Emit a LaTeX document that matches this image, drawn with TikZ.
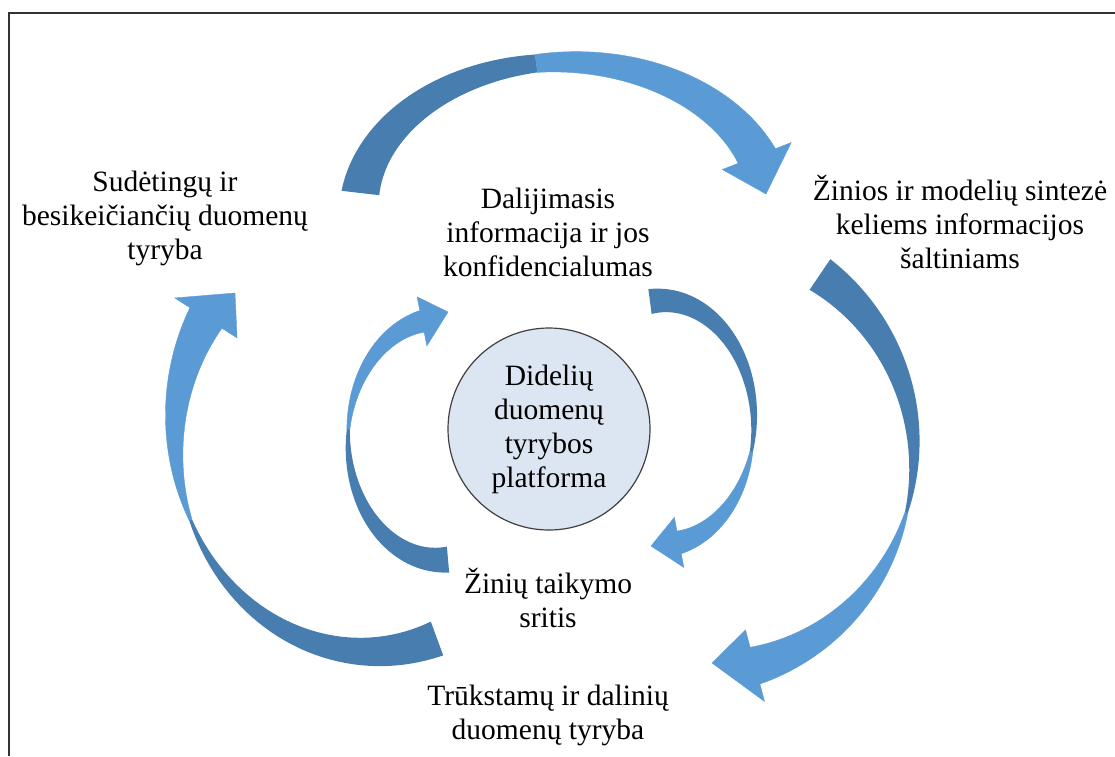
\documentclass[tikz,border=0pt]{standalone}
\usepackage{fontspec}
\setmainfont{Liberation Serif}
\usepackage{tikz}
\definecolor{arrowlight}{RGB}{91,155,213}
\definecolor{arrowdark}{RGB}{72,125,175}
\definecolor{platform}{RGB}{220,230,242}

% ribbon parameters: centre, radii, angles (tail, twist, head), widths, wing
\def\cx{0}\def\cy{0}\def\ra{1}\def\rb{1}
\def\ta{0}\def\tb{1}\def\tc{2}
\def\wa{1}\def\wb{1}\def\wc{1}\def\hw{1}
% curved ribbon arrow, #1 = tip
\newcommand{\ribbon}[1]{%
  \fill[darkside] plot[domain=\ta:\tb] ({px(\x,1)},{py(\x,1)})
    -- plot[domain=\tb:\ta] ({px(\x,-1)},{py(\x,-1)}) -- cycle;
  \filldraw[lightside] plot[domain=\tb:\tc] ({px(\x,1)},{py(\x,1)})
    -- ({\cx+(\ra+\wc/2+\hw)*cos(\tc)},{\cy+(\rb+\wc/2+\hw)*sin(\tc)})
    -- #1
    -- ({\cx+(\ra-\wc/2-\hw)*cos(\tc)},{\cy+(\rb-\wc/2-\hw)*sin(\tc)})
    -- plot[domain=\tc:\tb] ({px(\x,-1)},{py(\x,-1)}) -- cycle;
}

\begin{document}
\begin{tikzpicture}[x=1pt,y=-1pt,samples=40,
    declare function={
      dw(\t)=(\t<\tb) ? \wa+(\wb-\wa)*(\t-\ta)/(\tb-\ta) : \wb+(\wc-\wb)*(\t-\tb)/(\tc-\tb);
      px(\t,\s)=\cx+(\ra+\s*dw(\t)/2)*cos(\t);
      py(\t,\s)=\cy+(\rb+\s*dw(\t)/2)*sin(\t);},
    txt/.style={align=center,inner sep=0pt,font=\fontsize{29.5}{34}\selectfont},
    darkside/.style={fill=arrowdark},
    lightside/.style={fill=arrowlight,draw=arrowlight,line width=0.4}]
\useasboundingbox (0,0) rectangle (1115,756);
\draw[line width=2, black!80] (9,756) -- (9,13) -- (1115,13);

% top arrow
\def\cx{565}\def\cy{210}\def\ra{206}\def\rb{148}
\def\ta{186.6}\def\tb{262}\def\tc{338.6}
\def\wa{38}\def\wb{18}\def\wc{40}\def\hw{17}
\ribbon{(766,194)}

% right outer arrow
\def\cx{700}\def\cy{455}\def\ra{214}\def\rb{218}
\def\ta{-55.9}\def\tb{15.4}\def\tc{75.1}
\def\wa{37}\def\wb{3}\def\wc{38}\def\hw{18}
\ribbon{(712,663)}

% left outer arrow
\def\cx{370}\def\cy{435}\def\ra{195}\def\rb{216.7}
\def\ta{69.9}\def\tb{157}\def\tc{212.7}
\def\wa{36}\def\wb{3}\def\wc{38}\def\hw{18}
\ribbon{(235,293)}

% inner left arrow
\def\cx{440}\def\cy{439.5}\def\ra{92}\def\rb{120.5}
\def\ta{85}\def\tb{185}\def\tc{258.7}
\def\wa{26}\def\wb{3}\def\wc{22}\def\hw{14}
\ribbon{(448,312)}

% inner right arrow
\def\cx{662}\def\cy{422.5}\def\ra{92}\def\rb{122}
\def\ta{262.5}\def\tb{374}\def\tc{439.3}
\def\wa{25}\def\wb{3}\def\wc{23}\def\hw{14}
\ribbon{(651,546)}

\node[txt] (sud) at (165,218) {Sudėtingų ir\\besikeičiančių duomenų\\tyryba};
\node[txt] (dal) at (548,232) {Dalijimasis\\informacija ir jos\\konfidencialumas};
\node[txt] (zin) at (960,222) {Žinios ir modelių sintezė\\keliems informacijos\\šaltiniams};
\node[txt] (taik) at (548,598) {Žinių taikymo\\sritis};
\node[txt] (truk) at (548,715) {Trūkstamų ir dalinių\\duomenų tyryba};
\node[txt, circle, draw=black!75, line width=1.2, fill=platform, minimum size=202] (plat) at (549,429) {Didelių\\duomenų\\tyrybos\\platforma};
\end{tikzpicture}
\end{document}
